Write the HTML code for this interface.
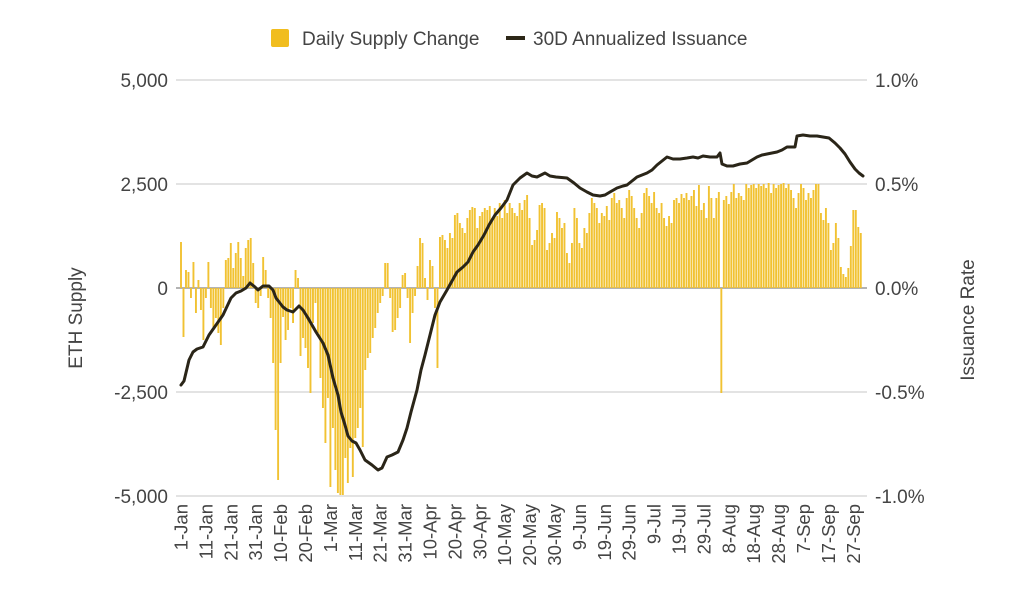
<!DOCTYPE html>
<html><head><meta charset="utf-8"><style>
html,body{margin:0;padding:0;background:#fff;}
svg{display:block;}
text{font-family:"Liberation Sans",Arial,sans-serif;fill:#444;}
</style></head><body>
<svg width="1019" height="600" viewBox="0 0 1019 600" xmlns="http://www.w3.org/2000/svg">
<!-- legend -->
<rect x="271" y="29" width="18" height="18" rx="2" fill="#f1bd1e"/>
<text x="302" y="45" font-size="19">Daily Supply Change</text>
<line x1="506" y1="38" x2="525" y2="38" stroke="#2d2718" stroke-width="4"/>
<text x="533" y="45" font-size="19">30D Annualized Issuance</text>

<!-- gridlines -->
<g stroke="#dadada" stroke-width="1.5">
<line x1="176" y1="80" x2="867" y2="80"/>
<line x1="176" y1="184" x2="867" y2="184"/>
<line x1="176" y1="392" x2="867" y2="392"/>
<line x1="176" y1="496" x2="867" y2="496"/>
</g>
<line x1="176" y1="288" x2="867" y2="288" stroke="#9a9a9a" stroke-width="1.5"/>

<!-- bars -->
<path fill="#f1c232" d="M180.05,288v-46h1.9v46m.59,0v49h1.9v-49m.59,0v-18h1.9v18m.59,0v-16h1.9v16m.59,0v10h1.9v-10m.59,0v-26h1.9v26m.59,0v25h1.9v-25m.59,0v-8h1.9v8m.59,0v22h1.9v-22m.59,0v52h1.9v-52m.59,0v10h1.9v-10m.59,0v-26h1.9v26m.59,0v20h1.9v-20m.59,0v39h1.9v-39m.59,0v30h1.9v-30m.59,0v45h1.9v-45m.59,0v57h1.9v-57m.59,0v20h1.9v-20m.59,0v-28h1.9v28m.59,0v-30h1.9v30m.59,0v-45h1.9v45m.59,0v-20h1.9v20m.59,0v-35h1.9v35m.59,0v-46h1.9v46m.59,0v-30h1.9v30m.59,0v-12h1.9v12m.59,0v-40h1.9v40m.59,0v-48h1.9v48m.59,0v-50h1.9v50m.59,0v-25h1.9v25m.59,0v15h1.9v-15m.59,0v20h1.9v-20m.59,0v8h1.9v-8m.59,0v-31h1.9v31m.59,0v-18h1.9v18m.59,0v10h1.9v-10m.59,0v30h1.9v-30m.59,0v75h1.9v-75m.59,0v142h1.9v-142m.59,0v192h1.9v-192m.59,0v75h1.9v-75m.59,0v29h1.9v-29m.59,0v52h1.9v-52m.59,0v42h1.9v-42m.59,0v20h1.9v-20m.59,0v35h1.9v-35m.59,0v-18h1.9v18m.59,0v-10h1.9v10m.59,0v68h1.9v-68m.59,0v50h1.9v-50m.59,0v60h1.9v-60m.59,0v80h1.9v-80m.59,0v105h1.9v-105m.59,0v35h1.9v-35m.59,0v15h1.9v-15m.59,0v45h1.9v-45m.59,0v90h1.9v-90m.59,0v120h1.9v-120m.59,0v155h1.9v-155m.59,0v110h1.9v-110m.59,0v199h1.9v-199m.59,0v140h1.9v-140m.59,0v182h1.9v-182m.59,0v205h1.9v-205m.59,0v207h1.9v-207m.59,0v207h1.9v-207m.59,0v170h1.9v-170m.59,0v195h1.9v-195m.59,0v160h1.9v-160m.59,0v189h1.9v-189m.59,0v150h1.9v-150m.59,0v140h1.9v-140m.59,0v120h1.9v-120m.59,0v159h1.9v-159m.59,0v82h1.9v-82m.59,0v70h1.9v-70m.59,0v65h1.9v-65m.59,0v50h1.9v-50m.59,0v40h1.9v-40m.59,0v25h1.9v-25m.59,0v15h1.9v-15m.59,0v8h1.9v-8m.59,0v-25h1.9v25m.59,0v-25h1.9v25m.59,0v10h1.9v-10m.59,0v44h1.9v-44m.59,0v42h1.9v-42m.59,0v30h1.9v-30m.59,0v20h1.9v-20m.59,0v-13h1.9v13m.59,0v-15h1.9v15m.59,0v10h1.9v-10m.59,0v55h1.9v-55m.59,0v25h1.9v-25m.59,0v8h1.9v-8m.59,0v-22h1.9v22m.59,0v-50h1.9v50m.59,0v-45h1.9v45m.59,0v-10h1.9v10m.59,0v12h1.9v-12m.59,0v-28h1.9v28m.59,0v-22h1.9v22m.59,0v20h1.9v-20m.59,0v80h1.9v-80m.59,0v-51h1.9v51m.59,0v-53h1.9v53m.59,0v-48h1.9v48m.59,0v-40h1.9v40m.59,0v-55h1.9v55m.59,0v-50h1.9v50m.59,0v-73h1.9v73m.59,0v-75h1.9v75m.59,0v-65h1.9v65m.59,0v-60h1.9v60m.59,0v-55h1.9v55m.59,0v-70h1.9v70m.59,0v-78h1.9v78m.59,0v-81h1.9v81m.59,0v-80h1.9v80m.59,0v-60h1.9v60m.59,0v-72h1.9v72m.59,0v-76h1.9v76m.59,0v-80h1.9v80m.59,0v-78h1.9v78m.59,0v-82h1.9v82m.59,0v-70h1.9v70m.59,0v-80h1.9v80m.59,0v-72h1.9v72m.59,0v-85h1.9v85m.59,0v-70h1.9v70m.59,0v-88h1.9v88m.59,0v-75h1.9v75m.59,0v-85h1.9v85m.59,0v-80h1.9v80m.59,0v-75h1.9v75m.59,0v-72h1.9v72m.59,0v-85h1.9v85m.59,0v-78h1.9v78m.59,0v-88h1.9v88m.59,0v-93h1.9v93m.59,0v-70h1.9v70m.59,0v-43h1.9v43m.59,0v-48h1.9v48m.59,0v-58h1.9v58m.59,0v-83h1.9v83m.59,0v-85h1.9v85m.59,0v-80h1.9v80m.59,0v-38h1.9v38m.59,0v-45h1.9v45m.59,0v-55h1.9v55m.59,0v-50h1.9v50m.59,0v-76h1.9v76m.59,0v-70h1.9v70m.59,0v-60h1.9v60m.59,0v-65h1.9v65m.59,0v-35h1.9v35m.59,0v-25h1.9v25m.59,0v-45h1.9v45m.59,0v-80h1.9v80m.59,0v-70h1.9v70m.59,0v-45h1.9v45m.59,0v-40h1.9v40m.59,0v-60h1.9v60m.59,0v-55h1.9v55m.59,0v-75h1.9v75m.59,0v-90h1.9v90m.59,0v-85h1.9v85m.59,0v-80h1.9v80m.59,0v-65h1.9v65m.59,0v-75h1.9v75m.59,0v-72h1.9v72m.59,0v-82h1.9v82m.59,0v-68h1.9v68m.59,0v-90h1.9v90m.59,0v-95h1.9v95m.59,0v-85h1.9v85m.59,0v-88h1.9v88m.59,0v-80h1.9v80m.59,0v-70h1.9v70m.59,0v-90h1.9v90m.59,0v-98h1.9v98m.59,0v-92h1.9v92m.59,0v-80h1.9v80m.59,0v-70h1.9v70m.59,0v-60h1.9v60m.59,0v-75h1.9v75m.59,0v-95h1.9v95m.59,0v-100h1.9v100m.59,0v-92h1.9v92m.59,0v-85h1.9v85m.59,0v-96h1.9v96m.59,0v-80h1.9v80m.59,0v-75h1.9v75m.59,0v-85h1.9v85m.59,0v-70h1.9v70m.59,0v-62h1.9v62m.59,0v-72h1.9v72m.59,0v-65h1.9v65m.59,0v-88h1.9v88m.59,0v-90h1.9v90m.59,0v-85h1.9v85m.59,0v-94h1.9v94m.59,0v-90h1.9v90m.59,0v-95h1.9v95m.59,0v-88h1.9v88m.59,0v-92h1.9v92m.59,0v-98h1.9v98m.59,0v-82h1.9v82m.59,0v-103h1.9v103m.59,0v-78h1.9v78m.59,0v-85h1.9v85m.59,0v-70h1.9v70m.59,0v-102h1.9v102m.59,0v-90h1.9v90m.59,0v-70h1.9v70m.59,0v-90h1.9v90m.59,0v-96h1.9v96m.59,0v105h1.9v-105m.59,0v-88h1.9v88m.59,0v-92h1.9v92m.59,0v-84h1.9v84m.59,0v-96h1.9v96m.59,0v-104h1.9v104m.59,0v-90h1.9v90m.59,0v-95h1.9v95m.59,0v-92h1.9v92m.59,0v-88h1.9v88m.59,0v-104h1.9v104m.59,0v-100h1.9v100m.59,0v-103h1.9v103m.59,0v-104h1.9v104m.59,0v-100h1.9v100m.59,0v-104h1.9v104m.59,0v-102h1.9v102m.59,0v-104h1.9v104m.59,0v-100h1.9v100m.59,0v-105h1.9v105m.59,0v-95h1.9v95m.59,0v-104h1.9v104m.59,0v-100h1.9v100m.59,0v-103h1.9v103m.59,0v-104h1.9v104m.59,0v-105h1.9v105m.59,0v-100h1.9v100m.59,0v-104h1.9v104m.59,0v-98h1.9v98m.59,0v-90h1.9v90m.59,0v-80h1.9v80m.59,0v-95h1.9v95m.59,0v-104h1.9v104m.59,0v-100h1.9v100m.59,0v-88h1.9v88m.59,0v-95h1.9v95m.59,0v-90h1.9v90m.59,0v-98h1.9v98m.59,0v-104h1.9v104m.59,0v-104h1.9v104m.59,0v-75h1.9v75m.59,0v-68h1.9v68m.59,0v-80h1.9v80m.59,0v-65h1.9v65m.59,0v-38h1.9v38m.59,0v-45h1.9v45m.59,0v-65h1.9v65m.59,0v-50h1.9v50m.59,0v-21h1.9v21m.59,0v-14h1.9v14m.59,0v-11h1.9v11m.59,0v-20h1.9v20m.59,0v-42h1.9v42m.59,0v-78h1.9v78m.59,0v-78h1.9v78m.59,0v-61h1.9v61m.59,0v-55h1.9v55m.59,0"/>

<!-- issuance line -->
<polyline fill="none" stroke="#2a2518" stroke-width="3" stroke-linejoin="round" stroke-linecap="round" points="181,385 184,381 189,360 193,352 197,349 203,347 209,335 216,325 223,315 231,298 236,293 241,291 246,288 250,283 255,287 258,290 263,286 269,286 273,290 276,298 283,307 287,310 293,312 299,306 303,310 308,318 316,332 323,343 328,355 333,378 338,395 341,412 345,425 348,436 352,441 356,443 360,450 365,460 372,465 378,470 382,468 387,457 392,455 398,452 403,440 407,428 411,412 417,390 421,370 425,355 430,335 435,315 440,302 447,290 452,281 457,272 463,267 468,262 473,252 478,245 484,235 489,225 495,215 501,208 507,200 513,185 520,178 527,173 532,176 537,177 545,173 550,176 556,177 567,178 574,183 580,188 587,192 593,195 600,196 605,195 610,192 617,188 623,186 627,185 632,181 637,177 647,173 652,170 657,165 662,161 667,157 673,159 680,159 687,158 693,157 698,158 703,156 710,157 717,157 720,153 722,164 727,166 733,166 740,164 747,163 752,160 757,157 762,155 767,154 772,153 777,152 782,150 787,147 795,147 797,136 803,135 810,136 817,136 823,137 829,138 835,143 840,148 845,154 850,162 855,169 859,173 863,176"/>

<!-- left axis labels -->
<g font-size="19" text-anchor="end">
<text x="168" y="87">5,000</text>
<text x="168" y="191">2,500</text>
<text x="168" y="295">0</text>
<text x="168" y="399">-2,500</text>
<text x="168" y="503">-5,000</text>
</g>
<!-- right axis labels -->
<g font-size="19">
<text x="875" y="87">1.0%</text>
<text x="875" y="191">0.5%</text>
<text x="875" y="295">0.0%</text>
<text x="875" y="399">-0.5%</text>
<text x="875" y="503">-1.0%</text>
</g>
<!-- axis titles -->
<text font-size="19" text-anchor="middle" transform="translate(82,318) rotate(-90)">ETH Supply</text>
<text font-size="19" text-anchor="middle" transform="translate(974,320) rotate(-90)">Issuance Rate</text>

<!-- x labels -->
<g font-size="18.5" text-anchor="end">
<text transform="translate(181,504) rotate(-90)" dy="0.35em">1-Jan</text>
<text transform="translate(205.9,504) rotate(-90)" dy="0.35em">11-Jan</text>
<text transform="translate(230.8,504) rotate(-90)" dy="0.35em">21-Jan</text>
<text transform="translate(255.7,504) rotate(-90)" dy="0.35em">31-Jan</text>
<text transform="translate(280.6,504) rotate(-90)" dy="0.35em">10-Feb</text>
<text transform="translate(305.5,504) rotate(-90)" dy="0.35em">20-Feb</text>
<text transform="translate(330.4,504) rotate(-90)" dy="0.35em">1-Mar</text>
<text transform="translate(355.3,504) rotate(-90)" dy="0.35em">11-Mar</text>
<text transform="translate(380.2,504) rotate(-90)" dy="0.35em">21-Mar</text>
<text transform="translate(405.1,504) rotate(-90)" dy="0.35em">31-Mar</text>
<text transform="translate(430,504) rotate(-90)" dy="0.35em">10-Apr</text>
<text transform="translate(454.9,504) rotate(-90)" dy="0.35em">20-Apr</text>
<text transform="translate(479.8,504) rotate(-90)" dy="0.35em">30-Apr</text>
<text transform="translate(504.7,504) rotate(-90)" dy="0.35em">10-May</text>
<text transform="translate(529.6,504) rotate(-90)" dy="0.35em">20-May</text>
<text transform="translate(554.5,504) rotate(-90)" dy="0.35em">30-May</text>
<text transform="translate(579.4,504) rotate(-90)" dy="0.35em">9-Jun</text>
<text transform="translate(604.3,504) rotate(-90)" dy="0.35em">19-Jun</text>
<text transform="translate(629.2,504) rotate(-90)" dy="0.35em">29-Jun</text>
<text transform="translate(654.1,504) rotate(-90)" dy="0.35em">9-Jul</text>
<text transform="translate(679,504) rotate(-90)" dy="0.35em">19-Jul</text>
<text transform="translate(703.9,504) rotate(-90)" dy="0.35em">29-Jul</text>
<text transform="translate(728.8,504) rotate(-90)" dy="0.35em">8-Aug</text>
<text transform="translate(753.7,504) rotate(-90)" dy="0.35em">18-Aug</text>
<text transform="translate(778.6,504) rotate(-90)" dy="0.35em">28-Aug</text>
<text transform="translate(803.5,504) rotate(-90)" dy="0.35em">7-Sep</text>
<text transform="translate(828.4,504) rotate(-90)" dy="0.35em">17-Sep</text>
<text transform="translate(853.3,504) rotate(-90)" dy="0.35em">27-Sep</text>
</g>
</svg>
</body></html>
